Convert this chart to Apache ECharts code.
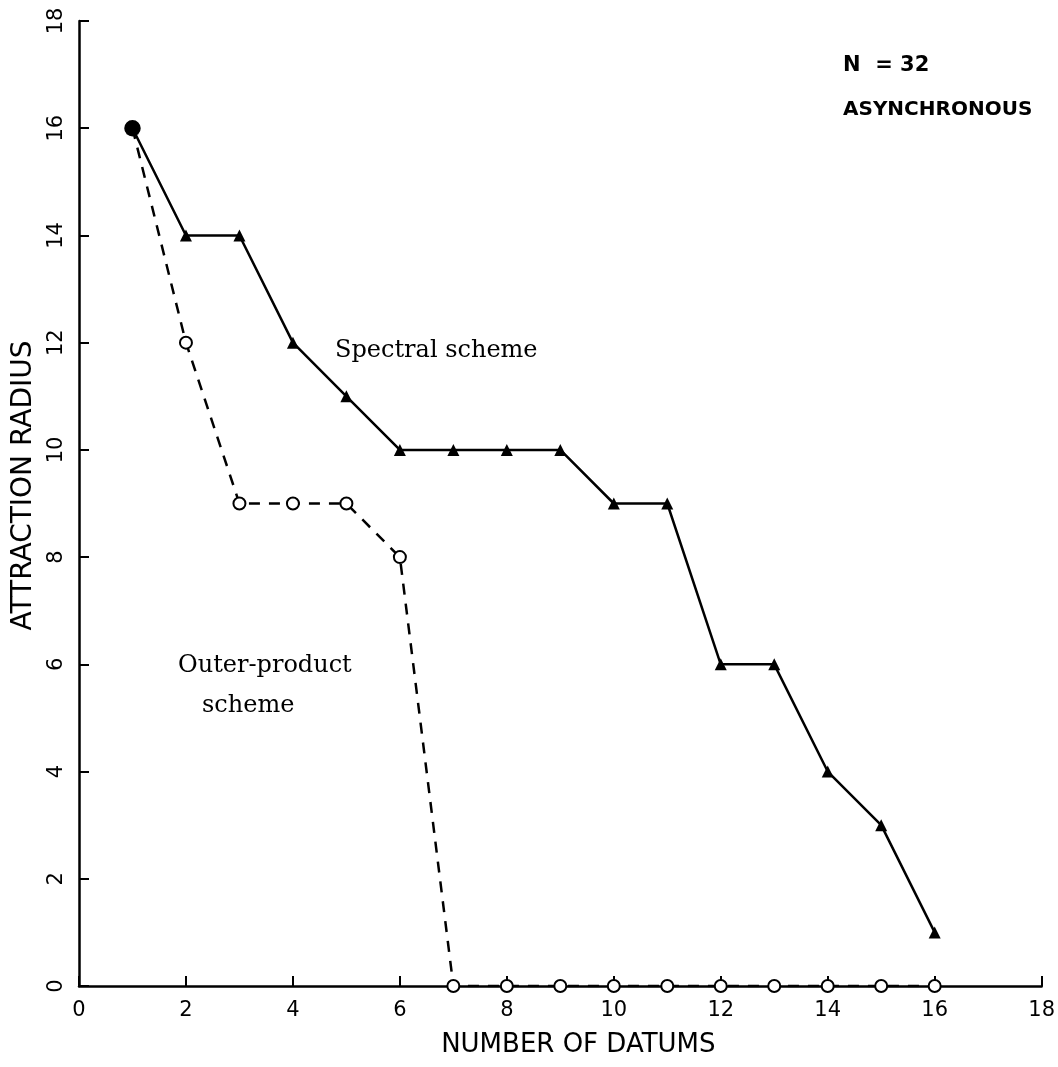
<!DOCTYPE html>
<html>
<head>
<meta charset="utf-8">
<script src="https://cdn.jsdelivr.net/npm/echarts@6/dist/echarts.min.js"></script>
<style>
  html, body { margin: 0; padding: 0; background: #fff; }
  #chart { width: 1058px; height: 1067px; }
</style>
</head>
<body>
<div id="chart"></div>
<script>
// number of datums (x) and attraction radius for each scheme
var datums = [1, 2, 3, 4, 5, 6, 7, 8, 9, 10, 11, 12, 13, 14, 15, 16];
var spectralRadius = [16, 14, 14, 12, 11, 10, 10, 10, 10, 9, 9, 6, 6, 4, 3, 1];
var outerProductRadius = [16, 12, 9, 9, 9, 8, 0, 0, 0, 0, 0, 0, 0, 0, 0, 0];
var xTicks = [0, 2, 4, 6, 8, 10, 12, 14, 16, 18];
var yTicks = [0, 2, 4, 6, 8, 10, 12, 14, 16, 18];

function pairs(xs, ys) {
  return xs.map(function (x, i) { return [x, ys[i]]; });
}

var plotFont = '"DejaVu Sans", sans-serif';
var noteFont = '"DejaVu Serif", serif';

var chart = echarts.init(document.getElementById('chart'));

// the two schemes share their first point, drawn as a filled dot
var outerData = pairs(datums, outerProductRadius).map(function (p, i) {
  if (i === 0)
    return { value: p, symbol: 'circle', symbolSize: 14 };
  return p;
});

var axisCommon = {
  type: 'value',
  min: 0,
  max: 18,
  interval: 2,
  splitLine: { show: false },
  axisLine: { show: true, lineStyle: { color: '#000', width: 2.5 } },
  axisTick: { show: true, inside: true, length: 10, lineStyle: { color: '#000', width: 2 } }
};

var option = {
  animation: false,
  backgroundColor: '#fff',
  grid: { left: 79, right: 16, top: 21, bottom: 81 },
  xAxis: Object.assign({}, axisCommon, {
    name: 'NUMBER OF DATUMS',
    nameLocation: 'middle',
    nameGap: 46,
    nameTextStyle: { fontFamily: plotFont, fontSize: 26, color: '#000', padding: [0, 0, 0, 36] },
    axisLabel: {
      margin: 14, fontFamily: plotFont, fontSize: 21, color: '#000',
      formatter: function (v) { return xTicks.indexOf(v) >= 0 ? String(v) : ''; }
    }
  }),
  yAxis: Object.assign({}, axisCommon, {
    name: 'ATTRACTION RADIUS',
    nameLocation: 'middle',
    nameGap: 40,
    nameRotate: 90,
    nameTextStyle: { fontFamily: plotFont, fontSize: 28, color: '#000', padding: [0, 0, 0, 36] },
    axisLabel: {
      rotate: 90, margin: 12, fontFamily: plotFont, fontSize: 21, color: '#000',
      formatter: function (v) { return yTicks.indexOf(v) >= 0 ? String(v) : ''; }
    }
  }),
  series: [
    {
      name: 'Outer-product scheme',
      type: 'line',
      data: outerData,
      symbol: 'emptyCircle',
      symbolSize: 12,
      showAllSymbol: true,
      itemStyle: { color: '#000', borderColor: '#000', borderWidth: 2.5 },
      lineStyle: { color: '#000', width: 2.5, type: [11, 9] },
      z: 3
    },
    {
      name: 'Spectral scheme',
      type: 'line',
      data: pairs(datums, spectralRadius),
      symbol: 'triangle',
      symbolSize: 12,
      showAllSymbol: true,
      itemStyle: { color: '#000' },
      lineStyle: { color: '#000', width: 2.5 },
      z: 2
    }
  ],
  graphic: [
    { type: 'text', left: 335, top: 339,
      style: { text: 'Spectral scheme', font: '24px ' + noteFont, fill: '#000' } },
    { type: 'text', left: 178, top: 654,
      style: { text: 'Outer-product', font: '24px ' + noteFont, fill: '#000' } },
    { type: 'text', left: 202, top: 694,
      style: { text: 'scheme', font: '24px ' + noteFont, fill: '#000' } },
    { type: 'text', left: 843, top: 55,
      style: { text: 'N  = 32', font: 'bold 21px ' + plotFont, fill: '#000' } },
    { type: 'text', left: 843, top: 100,
      style: { text: 'ASYNCHRONOUS', font: 'bold 20px ' + plotFont, fill: '#000' } }
  ]
};

chart.setOption(option);
</script>
</body>
</html>
